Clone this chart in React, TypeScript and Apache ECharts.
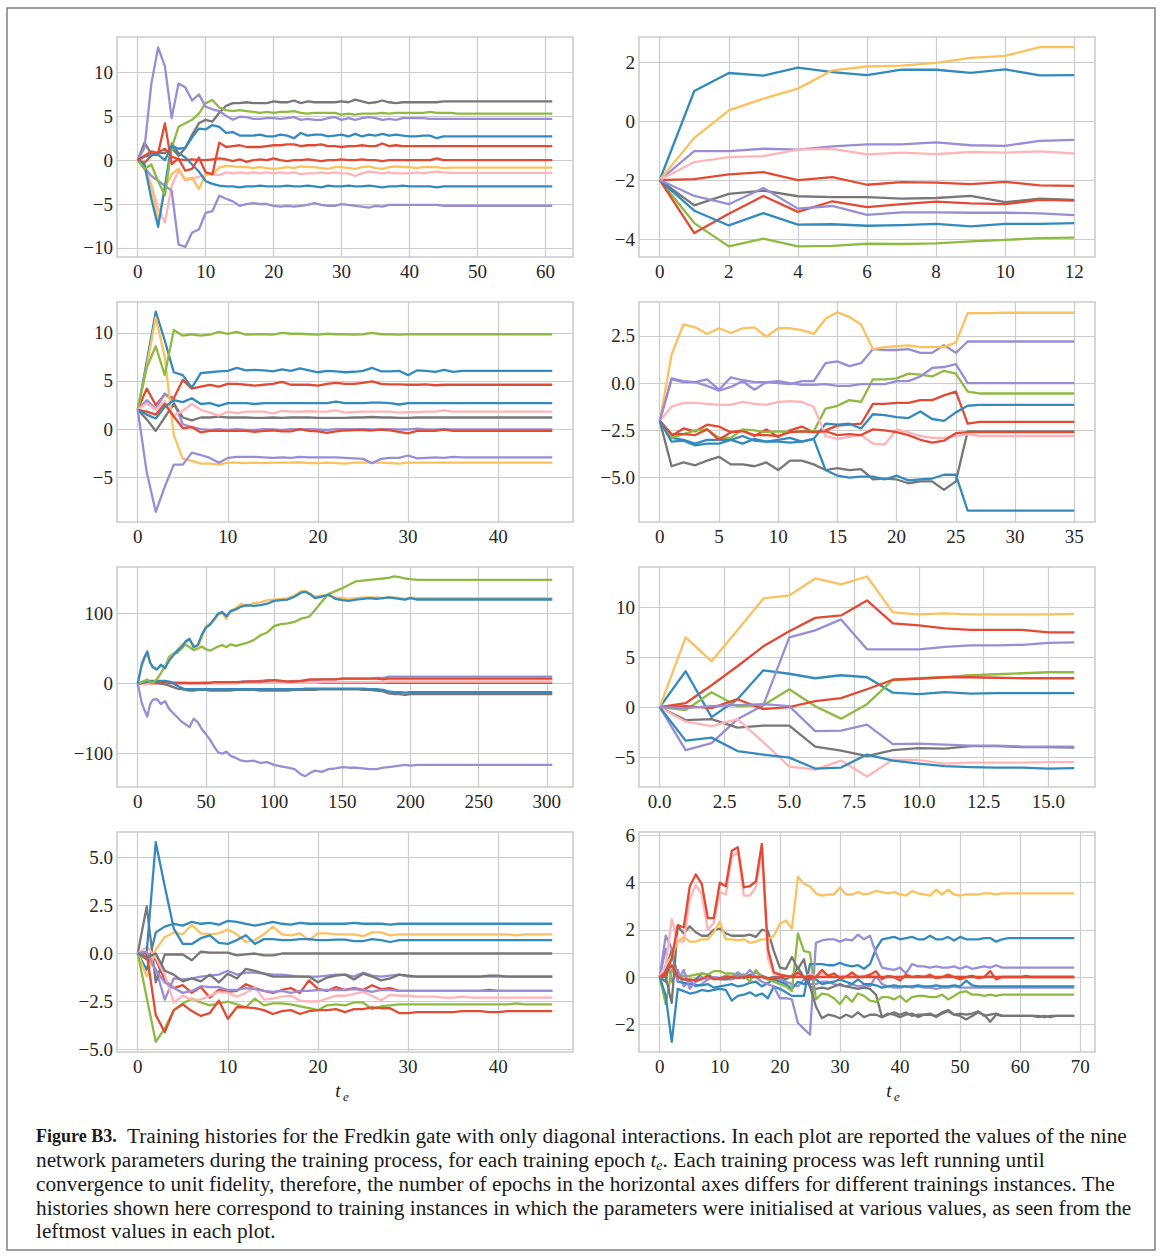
import React, { useEffect, useRef } from 'react';
import * as echarts from 'echarts';

const RED = '#E24A33';
const BLUE = '#348ABD';
const PURPLE = '#988ED5';
const GRAY = '#777777';
const YELLOW = '#FBC15E';
const GREEN = '#8EBA42';
const PINK = '#FFB5B8';

// ---------- Panel 1 (top-left), epochs 0..61 ----------
const p1XTicks = [0, 10, 20, 30, 40, 50, 60];
const p1YTicks = [-10, -5, 0, 5, 10];
const p1Gray = [0,2.0,0.7,0.8,0.8,1.4,0.5,1.4,2.9,4.2, 4.6,4.4,5.4,6.2,6.5,6.5,6.6,6.5,6.5,6.5, 6.7,6.6,6.6,6.8,6.5,6.7,6.6,6.6,6.6,6.6, 6.7,6.6,6.9,6.7,6.5,6.6,6.8,6.6,6.5,6.6, 6.6,6.6,6.6,6.6,6.6,6.7,6.7,6.7,6.7,6.7, 6.7,6.7,6.7,6.7,6.7,6.7,6.7,6.7,6.7,6.7, 6.7,6.7];
const p1Green = [0,-1.0,-0.5,-2.4,-4.0,1.4,3.8,4.2,4.6,5.3, 6.5,6.85,6.0,5.7,5.6,5.7,5.6,5.5,5.4,5.5, 5.4,5.5,5.5,5.6,5.4,5.3,5.4,5.4,5.4,5.4, 5.2,5.3,5.2,5.3,5.3,5.3,5.4,5.3,5.4,5.4, 5.4,5.4,5.4,5.5,5.4,5.4,5.4,5.3,5.3,5.3, 5.3,5.3,5.3,5.3,5.3,5.3,5.3,5.3,5.3,5.3, 5.3,5.3];
const p1PurpleA = [0,1.4,8.7,12.85,10.7,4.8,8.75,8.3,6.8,7.5, 6.1,5.8,5.6,5.05,4.6,4.95,4.9,4.7,4.7,4.8, 4.8,4.7,4.8,4.9,4.6,4.7,4.6,4.6,4.8,4.9, 4.6,4.8,4.6,4.8,4.9,4.8,4.6,4.7,4.6,4.8, 4.8,4.8,4.8,4.7,4.7,4.7,4.7,4.7,4.7,4.7, 4.7,4.7,4.7,4.7,4.7,4.7,4.7,4.7,4.7,4.7, 4.7,4.7];
const p1BlueA = [0,0.4,0.6,0.6,0.0,1.6,1.3,1.4,2.6,3.6, 3.5,4.0,3.8,3.1,3.2,2.8,2.8,2.8,2.9,2.7, 2.7,2.9,2.8,2.5,3.1,2.8,2.9,2.9,2.7,2.8, 2.9,2.7,3.0,2.7,2.9,2.8,3.0,2.8,2.9,2.8, 2.7,2.7,2.8,2.8,2.5,2.7,2.7,2.7,2.7,2.7, 2.7,2.7,2.7,2.7,2.7,2.7,2.7,2.7,2.7,2.7, 2.7,2.7];
const p1RedA = [0,0.5,1.0,0.8,4.2,-0.45,0.2,-1.2,-1.0,0.3, -1.4,-1.6,2.0,1.5,1.6,1.7,1.5,1.5,1.5,1.6, 1.7,1.7,1.8,1.8,1.6,1.7,1.7,1.8,1.6,1.6, 1.5,1.6,1.6,1.7,1.6,1.6,1.9,1.6,1.7,1.6, 1.6,1.6,1.6,1.6,1.6,1.6,1.6,1.6,1.6,1.6, 1.6,1.6,1.6,1.6,1.6,1.6,1.6,1.6,1.6,1.6, 1.6,1.6];
const p1RedB = [0,-0.3,0.5,0.9,1.3,0.4,0.1,0.0,0.1,0.0, 0.0,0.1,0.2,0.1,-0.1,0.1,-0.2,0.0,0.1,0.0, 0.2,0.0,-0.1,0.0,0.0,0.1,0.0,-0.1,0.0,0.0, 0.1,0.0,0.0,0.1,0.0,0.0,-0.1,0.0,0.0,0.0, 0.0,0.0,0.0,0.0,0.2,0.0,0.0,0.0,0.0,0.0, 0,0,0,0,0,0,0,0,0,0, 0,0];
const p1Yellow = [0,-1.0,-3.0,-7.0,-3.1,-1.6,-1.0,-2.2,-2.0,-3.3, -1.6,-1.6,-0.85,-0.65,-0.7,-0.8,-0.8,-0.9,-0.8,-0.9, -1.0,-0.9,-0.8,-0.9,-0.7,-0.8,-0.8,-0.9,-1.0,-0.8, -0.8,-0.9,-1.0,-0.8,-0.7,-0.9,-1.0,-0.8,-0.7,-0.8, -0.8,-0.9,-0.8,-0.8,-0.8,-0.9,-0.85,-0.85,-0.85,-0.85, -0.85,-0.85,-0.85,-0.85,-0.85,-0.85,-0.85,-0.85,-0.85,-0.85, -0.85,-0.85];
const p1Pink = [0,-0.8,-2.8,-5.5,-7.1,-2.9,-1.2,-2.3,-2.1,-1.9, -1.7,-1.6,-1.7,-1.4,-1.5,-1.4,-1.5,-1.4,-1.5,-1.4, -1.5,-1.4,-1.5,-1.4,-1.6,-1.5,-1.5,-1.4,-1.5,-1.4, -1.5,-1.5,-1.8,-1.5,-1.3,-1.4,-1.5,-1.4,-1.5,-1.5, -1.5,-1.4,-1.5,-1.4,-1.3,-1.4,-1.45,-1.45,-1.45,-1.45, -1.45,-1.45,-1.45,-1.45,-1.45,-1.45,-1.45,-1.45,-1.45,-1.45, -1.45,-1.45];
const p1BlueB = [0,-0.5,-4.4,-7.6,-3.0,1.9,0.8,0.3,-0.5,-1.3, -2.4,-2.7,-2.9,-3.0,-3.0,-3.1,-3.0,-3.0,-2.9,-3.0, -3.0,-3.0,-2.9,-3.0,-3.0,-2.9,-3.0,-3.1,-2.9,-3.0, -3.0,-2.9,-3.0,-3.0,-2.9,-3.0,-3.1,-3.0,-3.0,-2.9, -3.0,-3.0,-3.0,-3.0,-3.1,-3.0,-3.0,-3.0,-3.0,-3.0, -3.0,-3.0,-3.0,-3.0,-3.0,-3.0,-3.0,-3.0,-3.0,-3.0, -3.0,-3.0];
const p1PurpleB = [0,-0.85,-1.8,-2.35,-2.9,-3.5,-9.6,-9.9,-8.25,-7.9, -6.0,-5.8,-4.05,-4.4,-4.7,-5.2,-5.0,-4.9,-5.0,-5.0, -5.2,-5.3,-5.2,-5.3,-5.2,-5.1,-4.9,-5.1,-5.2,-5.2, -5.0,-5.1,-5.2,-5.3,-5.4,-5.2,-5.3,-5.1,-5.1,-5.1, -5.1,-5.1,-5.1,-5.1,-5.1,-5.2,-5.2,-5.2,-5.2,-5.2, -5.2,-5.2,-5.2,-5.2,-5.2,-5.2,-5.2,-5.2,-5.2,-5.2, -5.2,-5.2];

// ---------- Panel 2 (top-right), epochs 0..12 ----------
const p2XTicks = [0, 2, 4, 6, 8, 10, 12];
const p2YTicks = [-4, -2, 0, 2];
const p2Yellow = [-2,-0.57,0.36,0.76,1.1,1.72,1.85,1.88,1.97,2.14,2.21,2.51,2.51];
const p2BlueA = [-2,1.02,1.63,1.54,1.81,1.66,1.56,1.74,1.74,1.63,1.75,1.55,1.56];
const p2PurpleA = [-2,-1.02,-1.02,-0.94,-0.97,-0.86,-0.79,-0.79,-0.72,-0.82,-0.84,-0.67,-0.64];
const p2Pink = [-2,-1.39,-1.22,-1.19,-0.97,-0.94,-1.13,-1.07,-1.12,-1.05,-1.07,-1.03,-1.1];
const p2RedA = [-2,-1.97,-1.81,-1.73,-2.0,-1.9,-2.16,-2.07,-2.09,-2.14,-2.06,-2.18,-2.2];
const p2Gray = [-2,-2.86,-2.47,-2.36,-2.55,-2.58,-2.58,-2.63,-2.61,-2.54,-2.75,-2.63,-2.67];
const p2RedB = [-2,-3.8,-3.14,-2.54,-3.08,-2.72,-2.92,-2.82,-2.73,-2.79,-2.82,-2.67,-2.7];
const p2PurpleB = [-2,-2.54,-2.82,-2.27,-2.97,-2.88,-3.18,-3.1,-3.1,-3.11,-3.11,-3.13,-3.19];
const p2BlueB = [-2,-3.04,-3.54,-3.12,-3.51,-3.5,-3.55,-3.53,-3.49,-3.57,-3.49,-3.49,-3.46];
const p2Green = [-2,-3.46,-4.25,-3.99,-4.25,-4.23,-4.16,-4.17,-4.15,-4.08,-4.03,-3.97,-3.95];

// ---------- Panel 3 (row 2 left), epochs 0..46 ----------
const p3XTicks = [0, 10, 20, 30, 40];
const p3YTicks = [-5, 0, 5, 10];
const p3Green = [2,6.4,8.6,5.6,10.3,9.7,9.85,9.7,9.8,10.1, 9.9,10.1,9.8,9.85,9.85,9.8,10.0,9.9,9.9,9.85, 9.8,9.9,9.85,9.85,9.8,9.85,10.0,9.85,9.85,9.8, 9.85,9.85,9.85,9.85,9.85,9.85,9.85,9.85,9.85,9.85, 9.85,9.85,9.85,9.85,9.85,9.85,9.85];
const p3BlueA = [2,7.0,12.2,9.2,5.9,5.6,4.3,5.8,5.9,6.0, 6.05,6.35,6.1,6.15,6.1,6.0,6.2,6.05,6.3,6.1, 5.9,6.05,6.0,5.9,5.95,6.05,6.35,6.0,6.0,6.05, 5.6,6.1,6.05,5.95,6.15,5.95,6.05,6.05,6.05,6.05, 6.05,6.05,6.05,6.05,6.05,6.05,6.05];
const p3Yellow = [2,6.5,11.6,7.5,-0.6,-3.1,-3.3,-3.6,-3.6,-3.7, -3.5,-3.5,-3.55,-3.5,-3.55,-3.5,-3.5,-3.5,-3.45,-3.55, -3.55,-3.5,-3.55,-3.6,-3.5,-3.5,-3.5,-3.5,-3.55,-3.6, -3.5,-3.5,-3.5,-3.5,-3.5,-3.5,-3.5,-3.5,-3.5,-3.5, -3.5,-3.5,-3.5,-3.5,-3.5,-3.5,-3.5];
const p3RedA = [2,4.2,2.5,3.6,3.2,5.1,4.2,4.4,4.6,4.4, 4.7,4.7,4.6,4.5,4.6,4.7,4.9,4.6,4.6,4.6, 4.5,4.7,4.8,4.7,4.7,4.8,4.95,4.7,4.65,4.65, 4.6,4.6,4.65,4.55,4.6,4.6,4.6,4.6,4.6,4.6, 4.6,4.6,4.6,4.6,4.6,4.6,4.6];
const p3BlueB = [2,1.5,1.1,2.3,3.0,2.8,3.2,2.6,2.7,2.4, 2.7,2.7,2.7,2.6,2.7,2.7,2.7,2.7,2.7,2.7, 2.7,2.7,2.85,2.7,2.7,2.7,2.75,2.75,2.7,2.55, 2.7,2.7,2.7,2.7,2.7,2.7,2.7,2.7,2.7,2.7, 2.7,2.7,2.7,2.7,2.7,2.7,2.7];
const p3Pink = [2,2.7,2.0,2.9,1.4,1.9,2.6,2.0,1.7,1.4, 1.8,1.65,1.8,1.8,1.8,1.6,1.9,1.8,1.8,1.85, 1.8,1.8,1.95,1.7,1.75,1.8,1.8,1.8,1.8,1.7, 1.75,1.75,1.8,1.8,1.95,1.8,1.8,1.8,1.8,1.8, 1.8,1.8,1.8,1.8,1.8,1.8,1.8];
const p3Gray = [2,1.0,-0.2,1.2,2.6,1.2,0.9,1.2,1.2,1.3, 1.2,1.2,1.2,1.15,1.15,1.2,1.15,1.2,1.2,1.2, 1.15,1.15,1.15,1.15,1.2,1.2,1.25,1.2,1.2,1.15, 1.15,1.2,1.2,1.2,1.2,1.2,1.2,1.2,1.2,1.2, 1.2,1.2,1.2,1.2,1.2,1.2,1.2];
const p3PurpleA = [2,3.0,2.1,3.7,2.8,0.5,0.2,0.0,-0.1,0.0, -0.1,0.0,-0.1,-0.1,0.0,-0.05,-0.1,0.0,-0.05,0.0, -0.05,-0.1,0.0,0.0,-0.05,0.0,-0.05,-0.05,0.0,-0.05, -0.05,0.05,-0.05,-0.05,0.0,-0.05,-0.05,-0.05,-0.05,-0.05, -0.05,-0.05,-0.05,-0.05,-0.05,-0.05,-0.05];
const p3RedB = [2,1.8,1.5,2.6,1.3,0.1,0.2,-0.35,-0.2,-0.2, -0.2,-0.2,-0.2,-0.3,-0.2,-0.15,-0.25,-0.25,0.0,-0.2, -0.25,-0.4,-0.25,-0.15,-0.1,-0.1,-0.15,-0.05,-0.15,-0.3, -0.45,-0.2,-0.2,-0.2,-0.05,-0.2,-0.2,-0.2,-0.2,-0.2, -0.2,-0.2,-0.2,-0.2,-0.2,-0.2,-0.2];
const p3PurpleB = [2,-4.5,-8.6,-6.0,-3.7,-3.7,-2.45,-2.7,-3.0,-3.5, -3.0,-2.9,-2.9,-2.9,-2.95,-3.0,-2.95,-3.0,-2.9,-2.95, -2.95,-2.95,-2.95,-3.0,-3.05,-3.1,-3.55,-3.1,-3.0,-3.0, -2.75,-3.05,-3.0,-2.95,-3.0,-2.9,-2.95,-2.95,-2.95,-2.95, -2.95,-2.95,-2.95,-2.95,-2.95,-2.95,-2.95];

// ---------- Panel 4 (row 2 right), epochs 0..35 ----------
const p4XTicks = [0, 5, 10, 15, 20, 25, 30, 35];
const p4YTicks = [-5, -2.5, 0, 2.5];
const p4Yellow = [-2,1.5,3.1,2.95,2.6,2.9,2.65,2.9,2.95,2.45, 2.9,2.9,2.8,2.6,3.4,3.75,3.5,3.1,1.8,1.9, 1.95,2.0,1.9,1.9,1.9,2.15,3.7,3.7,3.7,3.72, 3.72,3.72,3.72,3.72,3.72,3.72];
const p4PurpleA = [-2,0.25,0.1,0.05,-0.15,-0.4,-0.2,0.1,-0.35,0.05, 0.0,-0.05,0.1,0.1,1.05,1.15,0.9,1.05,1.8,1.75, 1.75,1.8,1.6,1.6,2.0,1.6,2.2,2.2,2.2,2.2, 2.2,2.2,2.2,2.2,2.2,2.2];
const p4PurpleB = [-2,0.2,0.05,0.05,0.2,-0.35,0.3,0.15,0.05,0.05, 0.1,0.0,-0.1,-0.1,-0.05,-0.15,-0.15,-0.05,-0.05,-0.05, 0.1,0.1,0.35,0.8,0.85,1.0,0.0,0.0,0.0,0.0, 0.0,0.0,0.0,0.0,0.0,0.0];
const p4Green = [-2,-2.9,-2.7,-2.5,-2.45,-2.9,-2.9,-2.45,-2.5,-2.6, -2.55,-2.6,-2.55,-2.55,-1.35,-1.2,-0.9,-1.0,0.2,0.2, 0.25,0.5,0.45,0.35,0.65,0.5,-0.45,-0.55,-0.55,-0.55, -0.55,-0.55,-0.55,-0.55,-0.55,-0.55];
const p4RedA = [-2,-2.8,-2.4,-2.55,-2.2,-2.3,-2.6,-2.5,-2.8,-2.45, -2.85,-2.5,-2.3,-2.6,-2.5,-2.25,-2.2,-2.15,-1.1,-1.1, -1.05,-1.05,-0.9,-0.9,-0.65,-0.45,-2.15,-2.05,-2.05,-2.05, -2.05,-2.05,-2.05,-2.05,-2.05,-2.05];
const p4BlueA = [-2,-2.9,-3.0,-3.2,-3.0,-3.0,-3.0,-2.8,-3.05,-3.1, -3.0,-2.9,-3.1,-2.95,-2.15,-2.2,-2.15,-2.4,-1.65,-1.7, -1.8,-1.85,-1.5,-1.9,-2.0,-1.55,-1.2,-1.15,-1.15,-1.15, -1.15,-1.15,-1.15,-1.15,-1.15,-1.15];
const p4RedB = [-2,-2.7,-2.7,-2.75,-2.45,-3.0,-2.6,-2.55,-2.75,-2.75, -2.8,-2.6,-2.55,-2.6,-2.55,-2.75,-2.7,-2.75,-2.45,-2.5, -2.6,-2.75,-3.0,-3.15,-3.05,-2.65,-2.6,-2.6,-2.6,-2.6, -2.6,-2.6,-2.6,-2.6,-2.6,-2.6];
const p4Gray = [-2,-4.4,-4.2,-4.35,-4.1,-3.9,-4.3,-4.3,-4.4,-4.2, -4.6,-4.1,-4.1,-4.3,-4.6,-4.5,-4.6,-4.55,-5.1,-5.05, -5.1,-5.3,-5.2,-5.2,-5.65,-5.2,-2.55,-2.55,-2.55,-2.55, -2.55,-2.55,-2.55,-2.55,-2.55,-2.55];
const p4Pink = [-2,-1.25,-1.05,-1.05,-1.1,-1.15,-1.15,-1.0,-1.1,-1.15, -1.0,-0.95,-1.0,-1.25,-2.8,-2.95,-2.85,-2.75,-3.2,-3.25, -2.45,-2.6,-2.8,-2.9,-2.9,-2.8,-2.7,-2.8,-2.8,-2.8, -2.8,-2.8,-2.8,-2.8,-2.8,-2.8];
const p4BlueB = [-2,-3.1,-3.05,-3.3,-3.2,-3.2,-3.0,-3.2,-2.95,-3.1, -3.1,-3.15,-3.1,-2.95,-4.6,-4.9,-5.0,-4.95,-4.95,-5.1, -4.9,-5.15,-5.1,-5.05,-4.85,-4.85,-6.75,-6.75,-6.75,-6.75, -6.75,-6.75,-6.75,-6.75,-6.75,-6.75];

// ---------- Panel 5 (row 3 left), epochs 0..304 (sampled readings) ----------
const p5XTicks = [0, 50, 100, 150, 200, 250, 300];
const p5YTicks = [-100, 0, 100];
const p5X = [0,3,5,7,9,11,14,17,20,23, 26,29,32,35,38,41,44,47,50,53, 56,59,62,65,68,72,76,80,85,90, 95,100,105,110,115,120,123,126,130,135, 140,145,150,155,160,165,170,175,180,184, 188,192,196,200,205,210,230,260,304];
const p5BlueA = [0,28,38,46,30,24,20,27,22,33, 40,47,52,60,64,52,55,70,80,84, 92,100,102,96,103,106,110,112,111,112, 114,118,119,120,124,130,131,128,122,124, 127,121,119,118,120,121,122,121,122,123, 122,121,120,122,120,120,120,120,120];
const p5Yellow = [0,25,35,42,32,22,21,25,24,35, 42,48,55,58,62,55,52,65,82,86, 90,98,101,92,104,108,114,110,115,116, 119,120,121,122,126,132,132,129,124,126, 125,123,122,121,122,123,123,123,122,123, 123,122,121,123,122,122,122,122,122];
const p5Green = [0,2,4,6,2,1,6,15,25,38, 43,44,50,56,52,48,50,53,49,47, 50,53,55,52,56,54,56,58,62,69, 73,82,85,86,88,93,94,96,105,117, 128,132,136,141,146,147,148,149,150,151, 153,152,150,149,148,148,148,148,148];
const p5PurpleB = [0,-28,-38,-47,-30,-23,-22,-29,-25,-36, -42,-48,-54,-58,-62,-50,-55,-65,-72,-80, -90,-98,-100,-97,-103,-106,-110,-111,-110,-113, -112,-116,-118,-120,-122,-130,-132,-128,-124,-126, -122,-121,-119,-120,-120,-121,-122,-122,-120,-119, -118,-117,-116,-117,-116,-116,-116,-116,-116];
const p5PurpleA = [0,1,2,1,0,1,0,1,1,0, -1,0,0,1,0,0,1,0,0,1, 1,1,2,2,2,2,3,3,3,4, 5,5,4,3,4,4,4,5,5,6, 6,6,7,7,7,7,7,8,8,10, 10,10,10,10,10,10,10,10,10];
const p5RedA = [0,1,2,3,2,2,2,2,2,1, 1,1,1,1,1,1,1,1,1,1, 2,2,2,2,2,2,2,3,3,3, 4,5,4,3,3,4,5,6,6,6, 6,6,7,7,7,7,7,7,6,7, 7,7,7,7,7,7,7,7,7];
const p5RedB = [0,0,1,1,0,0,0,1,1,1, 1,1,1,1,0,0,0,1,1,1, 1,1,1,1,1,1,1,1,1,1, 1,1,1,1,1,1,1,1,1,1, 1,1,1,1,1,1,1,1,1,1, 1,1,1,1,1,1,1,1,1];
const p5Pink = [0,0,-1,-1,0,0,0,0,0,0, 0,0,0,0,0,0,0,0,0,0, 0,0,0,0,0,0,1,1,1,1, 1,1,1,1,1,1,1,1,1,2, 2,2,2,2,2,2,2,2,2,3, 3,3,3,3,3,3,3,3,3];
const p5Gray = [0,1,2,3,2,2,1,0,-1,-3, -5,-7,-8,-9,-10,-10,-9,-9,-9,-10, -10,-10,-10,-10,-10,-9,-9,-9,-9,-10, -10,-10,-10,-10,-9,-9,-9,-9,-9,-8, -8,-8,-8,-8,-8,-9,-9,-10,-11,-14, -15,-15,-16,-15,-15,-15,-15,-15,-15];
const p5BlueB = [0,2,3,4,4,4,4,4,4,3, 1,-3,-6,-8,-8,-8,-8,-8,-8,-8, -8,-8,-8,-8,-8,-8,-8,-8,-8,-8, -8,-8,-8,-8,-8,-8,-7,-7,-7,-7, -7,-7,-7,-7,-7,-7,-8,-8,-9,-11, -12,-12,-13,-12,-12,-12,-12,-12,-12];

// ---------- Panel 6 (row 3 right), epochs 0..16 ----------
const p6XTicks = [0, 2.5, 5, 7.5, 10, 12.5, 15];
const p6YTicks = [-5, 0, 5, 10];
const p6Yellow = [0,7.0,4.6,7.7,10.9,11.2,12.9,12.3,13.1,9.5,9.3,9.4,9.3,9.3,9.3,9.3,9.35];
const p6RedA = [0,0.4,2.2,4.1,6.1,7.6,8.95,9.2,10.7,8.4,8.2,7.9,7.75,7.75,7.75,7.5,7.5];
const p6PurpleA = [0,-4.3,-3.6,-1.2,0.2,7.0,7.7,8.8,5.8,5.8,5.8,6.05,6.2,6.2,6.25,6.45,6.5];
const p6Green = [0,-0.3,1.5,0.1,0.2,1.8,0.1,-1.15,0.3,2.75,2.9,3.0,3.2,3.3,3.4,3.5,3.5];
const p6RedB = [0,0.1,-0.1,0.8,-0.2,0.0,0.6,0.9,1.8,2.75,2.85,3.0,3.0,2.95,2.9,2.9,2.9];
const p6BlueA = [0,3.6,-1.0,0.8,3.7,3.35,2.9,3.2,3.0,1.45,1.3,1.5,1.35,1.4,1.4,1.4,1.4];
const p6PurpleB = [0,-0.1,0.1,0.2,0.3,0.1,-2.4,-2.35,-1.75,-3.7,-3.65,-3.75,-3.85,-3.85,-3.95,-3.95,-3.95];
const p6Gray = [0,-1.3,-1.2,-2.05,-1.85,-1.85,-3.95,-4.35,-4.9,-4.3,-4.1,-4.15,-3.9,-3.9,-4.0,-4.0,-4.05];
const p6BlueB = [0,-3.35,-3.05,-4.4,-4.75,-5.05,-6.15,-6.05,-4.75,-5.35,-5.65,-5.9,-6.0,-6.05,-6.05,-6.15,-6.1];
const p6Pink = [0,-1.45,-1.9,-1.2,-3.5,-5.95,-6.25,-5.35,-6.95,-5.25,-5.3,-5.65,-5.55,-5.55,-5.55,-5.5,-5.5];

// ---------- Panel 7 (row 4 left), epochs 0..46 ----------
const p7XTicks = [0, 10, 20, 30, 40];
const p7YTicks = [-5, -2.5, 0, 2.5, 5];
const p7BlueA = [0,-0.85,1.1,1.4,1.55,1.45,1.65,1.55,1.6,1.5, 1.7,1.65,1.55,1.45,1.55,1.65,1.55,1.5,1.6,1.55, 1.55,1.55,1.55,1.55,1.6,1.55,1.55,1.55,1.5,1.55, 1.55,1.55,1.55,1.55,1.55,1.55,1.55,1.55,1.55,1.55, 1.55,1.55,1.55,1.55,1.55,1.55,1.55];
const p7BlueB = [0,0.1,5.8,3.5,1.3,0.5,0.5,0.8,0.95,0.55, 0.5,0.7,0.95,0.5,0.75,0.75,0.7,0.7,0.75,0.75, 0.7,0.7,0.72,0.72,0.65,0.65,0.75,0.7,0.6,0.7, 0.7,0.7,0.7,0.7,0.7,0.7,0.7,0.7,0.7,0.7, 0.7,0.7,0.7,0.7,0.7,0.7,0.7];
const p7Yellow = [0,-1.2,0.2,0.85,1.1,1.0,1.5,1.05,1.0,1.05, 1.25,1.0,0.6,0.7,1.0,1.4,1.0,0.95,1.05,0.7, 1.05,1.05,1.0,1.0,1.0,0.9,1.1,1.1,0.95,1.0, 1.0,1.0,1.0,1.0,1.0,1.0,1.0,1.0,1.0,1.0, 1.0,1.0,0.95,1.0,1.0,1.0,1.0];
const p7GrayA = [0,2.45,-1.5,-0.05,-0.05,-0.05,-0.35,0.1,0.05,0.05, 0.05,-0.1,-0.05,0.0,-0.1,-0.1,0.0,0.0,0.0,0.0, 0,0,0,0,0,0,0,0,0,0, 0,0,0,0,0,0,0,0,0,0, 0,0,0,0,0,0,0];
const p7GrayB = [0,-0.2,0.0,-0.9,-1.1,-1.45,-1.3,-1.45,-1.1,-1.5, -1.05,-1.3,-0.8,-0.9,-1.05,-1.2,-1.2,-1.2,-1.2,-1.2, -1.5,-1.25,-1.15,-1.1,-1.35,-1.05,-1.2,-1.4,-1.3,-1.1, -1.15,-1.2,-1.2,-1.2,-1.2,-1.2,-1.2,-1.2,-1.2,-1.15, -1.15,-1.2,-1.2,-1.2,-1.2,-1.2,-1.2];
const p7PurpleA = [0,-0.2,-0.8,-2.4,-1.3,-1.35,-1.3,-1.2,-1.15,-1.1, -0.9,-1.1,-1.0,-1.0,-1.05,-1.1,-1.1,-1.15,-1.2,-1.2, -1.2,-1.15,-1.1,-1.1,-1.2,-1.0,-1.15,-1.2,-1.15,-1.1, -1.2,-1.2,-1.2,-1.2,-1.2,-1.2,-1.2,-1.2,-1.2,-1.2, -1.2,-1.2,-1.2,-1.2,-1.2,-1.2,-1.2];
const p7PurpleB = [0,0.1,-0.9,-1.5,-1.8,-2.05,-1.95,-1.7,-1.75,-1.75, -1.9,-1.9,-1.8,-1.85,-1.95,-2.0,-1.95,-2.05,-1.95,-1.95, -1.9,-1.9,-1.9,-1.9,-1.85,-1.9,-2.0,-1.9,-1.9,-1.95, -1.95,-1.95,-1.95,-1.95,-1.95,-1.95,-1.95,-1.95,-1.95,-1.95, -1.95,-1.95,-1.95,-1.95,-1.95,-1.95,-1.95];
const p7RedA = [0,-0.3,-0.3,-1.4,-1.8,-1.65,-2.05,-1.75,-2.3,-1.9, -2.0,-1.95,-1.6,-1.8,-1.95,-2.05,-1.9,-1.8,-2.05,-1.4, -1.85,-1.95,-1.75,-1.9,-1.8,-1.9,-1.65,-1.85,-1.8,-1.95, -1.95,-1.95,-1.95,-1.95,-1.95,-1.95,-1.95,-1.95,-1.95,-1.9, -1.95,-1.95,-1.95,-1.95,-1.95,-1.95,-1.95];
const p7RedB = [0,0.0,-3.2,-4.1,-2.95,-2.65,-3.0,-3.25,-3.1,-2.45, -3.4,-2.8,-2.8,-2.85,-2.95,-3.15,-3.0,-2.95,-3.15,-3.0, -2.95,-2.95,-2.9,-3.05,-2.9,-2.9,-2.8,-2.85,-2.85,-3.1, -3.1,-3.05,-3.05,-3.05,-3.05,-3.05,-3.0,-3.0,-3.0,-3.05, -3.05,-3.0,-3.0,-3.0,-3.0,-3.0,-3.0];
const p7Pink = [0,0.35,-0.2,-1.1,-2.55,-2.2,-2.4,-2.4,-2.2,-2.0, -2.05,-2.25,-2.05,-1.75,-2.4,-2.35,-2.25,-2.2,-2.45,-2.5, -2.5,-2.35,-2.2,-2.2,-2.1,-2.0,-2.2,-2.45,-2.15,-2.2, -2.2,-2.25,-2.25,-2.25,-2.3,-2.3,-2.25,-2.3,-2.3,-2.3, -2.3,-2.3,-2.3,-2.3,-2.3,-2.3,-2.3];
const p7Green = [0,-2.3,-4.6,-3.9,-2.95,-2.6,-2.35,-2.55,-2.7,-2.6, -2.5,-2.65,-2.8,-2.35,-2.7,-2.6,-2.6,-2.65,-2.75,-2.85, -2.95,-2.7,-2.65,-2.7,-2.55,-2.55,-2.9,-2.75,-2.7,-2.65, -2.65,-2.65,-2.65,-2.65,-2.65,-2.65,-2.65,-2.65,-2.65,-2.65, -2.65,-2.65,-2.6,-2.65,-2.65,-2.65,-2.65];

// ---------- Panel 8 (row 4 right), epochs 0..69 ----------
const p8XTicks = [0, 10, 20, 30, 40, 50, 60, 70];
const p8YTicks = [-2, 0, 2, 4, 6];
const p8RedA = [0,0.1,0.8,2.2,2.1,3.85,4.35,3.95,2.5,2.5, 4.0,3.85,5.35,5.5,3.8,3.85,4.05,5.65,1.2,0.2, 0.1,0.05,0.0,0.2,0.0,0.05,0.0,0.3,0.05,0.15, -0.05,0.0,0.2,0.0,0.0,0.1,0.25,-0.1,0.05,0.0, -0.15,0.1,0.0,0.05,0.0,0.1,-0.05,0.0,0.1,0.0, -0.1,0.0,0.05,-0.05,0.0,0.25,-0.1,0.0,0.0,0.0, 0.0,0.05,0.0,0.0,0.0,0.0,0.0,0.0,0.0,0.0];
const p8Pink = [0,0.5,2.45,1.5,1.5,3.3,3.9,3.5,2.0,2.3, 3.6,3.5,5.1,5.3,3.45,3.45,3.8,5.3,0.8,0.1, 0.1,0.05,0.0,0.1,0.0,0.1,0.05,0.15,0.1,0.0, 0.05,0.05,0.1,0.0,0.05,0.1,0.05,0.0,0.05,0.0, 0.0,0.05,0.0,0.0,0.05,0.05,0.0,0.0,0.05,0.0, 0.0,0.0,0.05,0.0,0.0,0.05,0.0,0.0,0.0,0.0, 0,0,0,0,0,0,0,0,0,0];
const p8Yellow = [0,0.5,0.9,1.5,1.7,1.5,1.5,1.6,1.6,1.9, 2.35,1.6,1.6,1.55,1.6,1.45,1.5,1.6,1.6,1.75, 2.25,2.4,2.05,4.25,3.95,3.85,3.55,3.45,3.5,3.5, 3.8,3.5,3.5,3.6,3.5,3.55,3.65,3.6,3.55,3.6, 3.5,3.45,3.65,3.55,3.5,3.45,3.7,3.5,3.7,3.5, 3.45,3.5,3.5,3.5,3.55,3.55,3.5,3.55,3.55,3.55, 3.55,3.55,3.55,3.55,3.55,3.55,3.55,3.55,3.55,3.55];
const p8GrayA = [0,0.0,-1.1,2.15,1.85,2.15,1.9,1.75,1.75,2.0, 2.05,1.85,1.75,1.75,1.75,1.8,1.7,2.0,1.95,1.1, 0.4,0.35,0.85,0.35,0.75,-0.4,-1.25,-1.75,-1.6,-1.65, -1.75,-1.6,-1.7,-1.5,-1.7,-1.6,-1.6,-1.7,-1.55,-1.6, -1.7,-1.6,-1.55,-1.7,-1.6,-1.55,-1.7,-1.55,-1.45,-1.6, -1.65,-1.8,-1.65,-1.5,-1.6,-1.9,-1.6,-1.65,-1.65,-1.65, -1.65,-1.65,-1.65,-1.7,-1.65,-1.7,-1.65,-1.65,-1.65,-1.65];
const p8GrayB = [0,-0.2,1.2,0.0,-0.1,-0.15,-0.1,0.15,0.1,-0.05, -0.1,-0.1,0.0,0.1,-0.05,0.1,0.0,0.05,-0.05,0.0, 0.0,-0.1,0.05,0.4,0.0,-0.4,-0.5,-0.45,-0.5,-0.4, -0.3,-0.4,-0.45,-0.5,-0.45,-0.5,-0.75,-1.7,-1.6,-1.5, -1.6,-1.5,-1.65,-1.6,-1.6,-1.6,-1.65,-1.5,-1.4,-1.6, -1.55,-1.6,-1.55,-1.45,-1.65,-1.6,-1.55,-1.65,-1.65,-1.65, -1.65,-1.65,-1.65,-1.65,-1.7,-1.65,-1.65,-1.65,-1.65,-1.65];
const p8BlueA = [0,-0.8,-2.75,-0.5,-0.6,-0.7,-0.65,-0.55,-0.6,-0.55, -0.5,-0.55,-1.0,-0.8,-0.75,-0.65,-0.8,-0.7,-0.9,-0.4, -0.5,-0.65,-0.8,-0.8,-0.8,0.55,0.55,0.55,0.5,0.5, 0.6,0.5,0.45,0.5,0.35,0.55,1.2,1.6,1.65,1.7, 1.6,1.65,1.7,1.6,1.6,1.75,1.6,1.6,1.7,1.55, 1.7,1.6,1.6,1.6,1.65,1.65,1.5,1.6,1.65,1.65, 1.65,1.65,1.65,1.65,1.65,1.65,1.65,1.65,1.65,1.65];
const p8BlueB = [0,0.3,1.1,-0.2,-0.25,-0.3,-0.35,-0.35,-0.3,-0.45, -0.4,-0.35,-0.3,-0.4,-0.35,-0.25,-0.2,-0.4,-0.25,-0.1, -0.2,-0.3,-0.5,-0.2,-0.3,-0.1,-0.1,-0.3,-0.25,-0.2, -0.1,-0.2,-0.3,-0.1,-0.3,-0.3,-0.35,-0.45,-0.4,-0.35, -0.4,-0.4,-0.4,-0.35,-0.4,-0.4,-0.35,-0.4,-0.4,-0.35, -0.4,-0.15,-0.35,-0.4,-0.4,-0.4,-0.4,-0.4,-0.4,-0.4, -0.4,-0.4,-0.4,-0.4,-0.4,-0.4,-0.4,-0.4,-0.4,-0.4];
const p8PurpleA = [0,1.75,1.2,-0.15,0.3,-0.5,-0.2,0.0,-0.1,0.0, -0.05,0.05,0.0,0.2,0.0,0.3,0.0,-0.2,-0.3,-0.4, -0.9,-0.9,-0.95,-1.95,-2.2,-2.45,1.45,1.55,1.6,1.6, 1.5,1.6,1.55,1.8,1.6,1.75,1.0,0.4,0.35,0.3, 0.4,0.15,0.55,0.45,0.45,0.4,0.45,0.4,0.4,0.45, 0.35,0.45,0.35,0.4,0.45,0.4,0.5,0.4,0.4,0.4, 0.4,0.4,0.4,0.4,0.4,0.4,0.4,0.4,0.4,0.4];
const p8PurpleB = [0,1.2,-0.2,0.3,-0.4,-0.15,-0.4,-0.3,-0.1,0.0, -0.05,-0.1,-0.1,0.0,0.1,0.0,0.2,0.05,-0.1,0.0, -0.1,-0.2,-0.3,-0.4,-0.1,-0.3,-0.3,-0.2,-0.2,-0.3, -0.35,-0.4,-0.3,-0.4,-0.35,-0.4,0.05,-0.3,-0.4,-0.45, -0.45,-0.4,-0.45,-0.4,-0.45,-0.45,-0.5,-0.45,-0.45,-0.4, -0.45,-0.45,-0.45,-0.45,-0.45,-0.45,-0.45,-0.45,-0.45,-0.45, -0.45,-0.45,-0.45,-0.45,-0.45,-0.45,-0.45,-0.45,-0.45,-0.45];
const p8Green = [0,-1.15,0.3,0.05,0.05,0.05,0.1,0.15,0.1,0.25, 0.25,0.15,0.15,0.1,0.1,-0.2,0.3,0.0,-0.1,-0.2, -0.3,-0.4,-0.6,1.85,1.1,1.05,-0.95,-0.7,-0.75,-0.9, -1.15,-0.8,-1.05,-0.7,-0.8,-1.0,-1.05,-0.85,-0.85,-0.95, -0.8,-1.05,-0.85,-0.8,-0.8,-0.85,-0.85,-0.75,-0.95,-0.8, -0.65,-0.6,-0.75,-0.75,-0.8,-0.75,-0.8,-0.75,-0.75,-0.75, -0.75,-0.75,-0.75,-0.75,-0.75,-0.75,-0.75,-0.75,-0.75,-0.75];
const p8RedB = [0,0.2,0.5,0.0,-0.1,-0.1,-0.15,-0.1,0.05,-0.1, -0.05,0.0,0.0,-0.05,0.0,0.0,0.0,0.0,-0.05,-0.1, 0.0,0.05,0.0,0.0,0.0,-0.05,0.0,0.0,0.0,0.0, 0,0,0,0,0,0,0,0,0,0, 0,0,0,0,0,0,0,0,0,0, 0,0,0,0,0,0,0,0,0,0, 0,0,0,0,0,0,0,0,0,0];

// ---------- Caption ----------
const captionLines = [
  '{b|Figure B3.}{r|  Training histories for the Fredkin gate with only diagonal interactions. In each plot are reported the values of the nine}',
  '{r|network parameters during the training process, for each training epoch }{i|t}{s|e}{r|. Each training process was left running until}',
  '{r|convergence to unit fidelity, therefore, the number of epochs in the horizontal axes differs for different trainings instances. The}',
  '{r|histories shown here correspond to training instances in which the parameters were initialised at various values, as seen from the}',
  '{r|leftmost values in each plot.}',
];

type Line = { color: string; ys: number[]; xs?: number[] };
type Panel = {
  left: number; top: number;
  xMin: number; xMax: number; yMin: number; yMax: number;
  xTicks: number[]; yTicks: number[]; xDec: number; yDec: number;
  lines: Line[];
};

const LEFT_COL = 117;
const RIGHT_COL = 639;
const ROW_TOPS = [37, 302, 567, 832];
const PW = 456;
const PH = 220;

const panels: Panel[] = [
  { left: LEFT_COL, top: ROW_TOPS[0], xMin: -3.05, xMax: 64.05, yMin: -11.04, yMax: 14.04, xTicks: p1XTicks, yTicks: p1YTicks, xDec: 0, yDec: 0,
    lines: [
      { color: PINK, ys: p1Pink }, { color: YELLOW, ys: p1Yellow }, { color: RED, ys: p1RedB }, { color: PURPLE, ys: p1PurpleB },
      { color: BLUE, ys: p1BlueB }, { color: GRAY, ys: p1Gray }, { color: GREEN, ys: p1Green }, { color: PURPLE, ys: p1PurpleA },
      { color: BLUE, ys: p1BlueA }, { color: RED, ys: p1RedA },
    ] },
  { left: RIGHT_COL, top: ROW_TOPS[0], xMin: -0.6, xMax: 12.6, yMin: -4.61, yMax: 2.85, xTicks: p2XTicks, yTicks: p2YTicks, xDec: 0, yDec: 0,
    lines: [
      { color: RED, ys: p2RedA }, { color: BLUE, ys: p2BlueA }, { color: PURPLE, ys: p2PurpleA }, { color: GRAY, ys: p2Gray },
      { color: YELLOW, ys: p2Yellow }, { color: GREEN, ys: p2Green }, { color: PINK, ys: p2Pink }, { color: RED, ys: p2RedB },
      { color: BLUE, ys: p2BlueB }, { color: PURPLE, ys: p2PurpleB },
    ] },
  { left: LEFT_COL, top: ROW_TOPS[1], xMin: -2.3, xMax: 48.3, yMin: -9.66, yMax: 13.2, xTicks: p3XTicks, yTicks: p3YTicks, xDec: 0, yDec: 0,
    lines: [
      { color: RED, ys: p3RedA }, { color: BLUE, ys: p3BlueA }, { color: PURPLE, ys: p3PurpleA }, { color: GRAY, ys: p3Gray },
      { color: YELLOW, ys: p3Yellow }, { color: GREEN, ys: p3Green }, { color: PINK, ys: p3Pink }, { color: RED, ys: p3RedB },
      { color: BLUE, ys: p3BlueB }, { color: PURPLE, ys: p3PurpleB },
    ] },
  { left: RIGHT_COL, top: ROW_TOPS[1], xMin: -1.75, xMax: 36.75, yMin: -7.35, yMax: 4.29, xTicks: p4XTicks, yTicks: p4YTicks, xDec: 0, yDec: 1,
    lines: [
      { color: RED, ys: p4RedA }, { color: BLUE, ys: p4BlueA }, { color: PURPLE, ys: p4PurpleA }, { color: GRAY, ys: p4Gray },
      { color: YELLOW, ys: p4Yellow }, { color: GREEN, ys: p4Green }, { color: PINK, ys: p4Pink }, { color: RED, ys: p4RedB },
      { color: BLUE, ys: p4BlueB }, { color: PURPLE, ys: p4PurpleB },
    ] },
  { left: LEFT_COL, top: ROW_TOPS[2], xMin: -15.2, xMax: 319.2, yMin: -147.5, yMax: 166.4, xTicks: p5XTicks, yTicks: p5YTicks, xDec: 0, yDec: 0,
    lines: [
      { color: PURPLE, ys: p5PurpleA, xs: p5X }, { color: RED, ys: p5RedB, xs: p5X }, { color: PINK, ys: p5Pink, xs: p5X },
      { color: RED, ys: p5RedA, xs: p5X }, { color: GRAY, ys: p5Gray, xs: p5X }, { color: BLUE, ys: p5BlueB, xs: p5X },
      { color: GREEN, ys: p5Green, xs: p5X }, { color: PURPLE, ys: p5PurpleB, xs: p5X }, { color: YELLOW, ys: p5Yellow, xs: p5X },
      { color: BLUE, ys: p5BlueA, xs: p5X },
    ] },
  { left: RIGHT_COL, top: ROW_TOPS[2], xMin: -0.8, xMax: 16.8, yMin: -8.0, yMax: 14.05, xTicks: p6XTicks, yTicks: p6YTicks, xDec: 1, yDec: 0,
    lines: [
      { color: RED, ys: p6RedA }, { color: BLUE, ys: p6BlueA }, { color: PURPLE, ys: p6PurpleA }, { color: GRAY, ys: p6Gray },
      { color: YELLOW, ys: p6Yellow }, { color: GREEN, ys: p6Green }, { color: PINK, ys: p6Pink }, { color: RED, ys: p6RedB },
      { color: BLUE, ys: p6BlueB }, { color: PURPLE, ys: p6PurpleB },
    ] },
  { left: LEFT_COL, top: ROW_TOPS[3], xMin: -2.3, xMax: 48.3, yMin: -5.13, yMax: 6.33, xTicks: p7XTicks, yTicks: p7YTicks, xDec: 0, yDec: 1,
    lines: [
      { color: RED, ys: p7RedA }, { color: BLUE, ys: p7BlueA }, { color: PURPLE, ys: p7PurpleA }, { color: GRAY, ys: p7GrayA },
      { color: YELLOW, ys: p7Yellow }, { color: GREEN, ys: p7Green }, { color: PINK, ys: p7Pink }, { color: RED, ys: p7RedB },
      { color: BLUE, ys: p7BlueB }, { color: PURPLE, ys: p7PurpleB }, { color: GRAY, ys: p7GrayB },
    ] },
  { left: RIGHT_COL, top: ROW_TOPS[3], xMin: -3.45, xMax: 72.45, yMin: -3.18, yMax: 6.15, xTicks: p8XTicks, yTicks: p8YTicks, xDec: 0, yDec: 0,
    lines: [
      { color: PURPLE, ys: p8PurpleB }, { color: BLUE, ys: p8BlueB }, { color: GRAY, ys: p8GrayB }, { color: GREEN, ys: p8Green },
      { color: BLUE, ys: p8BlueA }, { color: PURPLE, ys: p8PurpleA }, { color: GRAY, ys: p8GrayA }, { color: YELLOW, ys: p8Yellow },
      { color: PINK, ys: p8Pink }, { color: RED, ys: p8RedB }, { color: RED, ys: p8RedA },
    ] },
];

const SERIF = 'Liberation Serif';
const TICK_COLOR = '#262626';
const GRID_COLOR = '#cccccc';

function fmt(dec: number) {
  return (v: number) => {
    const s = Math.abs(v).toFixed(dec);
    return v < 0 ? '\u2212' + s : s;
  };
}

function buildOption() {
  const grid = panels.map((p) => ({
    left: p.left, top: p.top, width: PW, height: PH,
    show: true, borderColor: GRID_COLOR, borderWidth: 1.6, backgroundColor: '#ffffff',
  }));
  const labelBase = { color: TICK_COLOR, fontFamily: SERIF, fontSize: 19 };
  const xAxis = panels.map((p, i) => ({
    type: 'value', gridIndex: i, min: p.xMin, max: p.xMax,
    axisLine: { show: false },
    axisTick: { show: false, customValues: p.xTicks },
    axisLabel: { ...labelBase, customValues: p.xTicks, margin: 5, formatter: fmt(p.xDec) },
    splitLine: { show: true, lineStyle: { color: GRID_COLOR, width: 1.2 } },
  }));
  const yAxis = panels.map((p, i) => ({
    type: 'value', gridIndex: i, min: p.yMin, max: p.yMax,
    axisLine: { show: false },
    axisTick: { show: false, customValues: p.yTicks },
    axisLabel: { ...labelBase, customValues: p.yTicks, margin: 4, formatter: fmt(p.yDec) },
    splitLine: { show: true, lineStyle: { color: GRID_COLOR, width: 1.2 } },
  }));
  const series: any[] = [];
  panels.forEach((p, i) => {
    p.lines.forEach((ln) => {
      series.push({
        type: 'line', xAxisIndex: i, yAxisIndex: i,
        data: ln.ys.map((y, k) => [ln.xs ? ln.xs[k] : k, y]),
        showSymbol: false, symbol: 'none', silent: true,
        lineStyle: { color: ln.color, width: 2.3, join: 'round' },
        itemStyle: { color: ln.color },
        z: 3,
      });
    });
  });

  const capBase = { fontFamily: SERIF, fontSize: 21.3, fill: '#1a1a1a', lineHeight: 24 };
  const graphic: any[] = [
    { type: 'rect', silent: true, z: 0, shape: { x: 7, y: 8, width: 1148, height: 1242 }, style: { fill: 'none', stroke: '#808080', lineWidth: 1.5 } },
    { type: 'text', silent: true, x: 338, y: 1090.5, style: { text: 't', fontFamily: SERIF, fontSize: 19, fontStyle: 'italic', fill: '#1a1a1a', align: 'center', verticalAlign: 'middle' } },
    { type: 'text', silent: true, x: 346, y: 1096, style: { text: 'e', fontFamily: SERIF, fontSize: 13, fontStyle: 'italic', fill: '#1a1a1a', align: 'center', verticalAlign: 'middle' } },
    { type: 'text', silent: true, x: 889, y: 1090.5, style: { text: 't', fontFamily: SERIF, fontSize: 19, fontStyle: 'italic', fill: '#1a1a1a', align: 'center', verticalAlign: 'middle' } },
    { type: 'text', silent: true, x: 897, y: 1096, style: { text: 'e', fontFamily: SERIF, fontSize: 13, fontStyle: 'italic', fill: '#1a1a1a', align: 'center', verticalAlign: 'middle' } },
  ];
  const capY = [1136, 1160, 1184, 1208, 1231];
  captionLines.forEach((t, k) => {
    graphic.push({
      type: 'text', silent: true, x: 36, y: capY[k],
      style: {
        text: t, align: 'left', verticalAlign: 'middle',
        rich: {
          b: { ...capBase, fontSize: 18, fontWeight: 'bold' },
          r: { ...capBase },
          i: { ...capBase, fontStyle: 'italic' },
          s: { fontFamily: SERIF, fontSize: 14, fill: '#1a1a1a', fontStyle: 'italic', lineHeight: 15, verticalAlign: 'bottom' },
        },
      },
    });
  });

  return { animation: false, backgroundColor: '#ffffff', grid, xAxis, yAxis, series, graphic };
}

export default function App() {
  const ref = useRef<HTMLDivElement>(null);
  useEffect(() => {
    if (!ref.current) return;
    const chart = echarts.init(ref.current, undefined, { renderer: 'svg', width: 1163, height: 1257 });
    chart.setOption(buildOption() as any);
    return () => chart.dispose();
  }, []);
  return <div ref={ref} style={{ position: 'absolute', left: 0, top: 0, width: 1163, height: 1257, background: '#ffffff' }} />;
}
